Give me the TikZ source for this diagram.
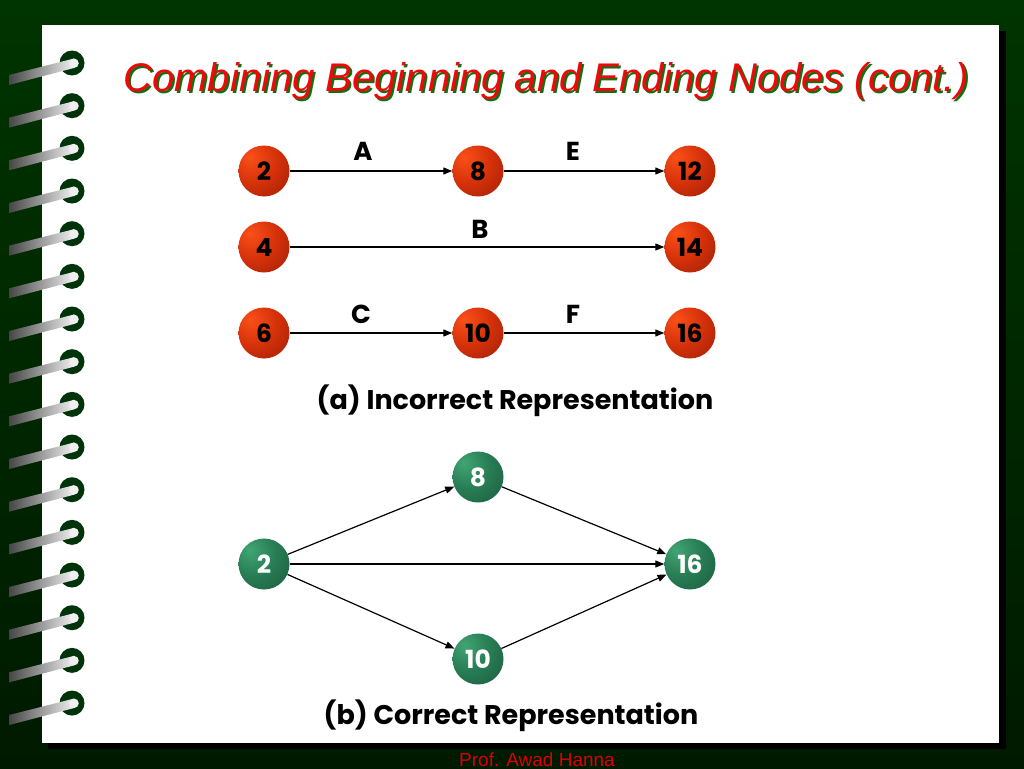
\documentclass[tikz,border=0pt]{standalone}
\usepackage{fontspec}
\setmainfont{Liberation Sans}
\newfontfamily\comic{Poppins}
\usetikzlibrary{arrows.meta}
\definecolor{bgtop}{RGB}{0,52,0}
\definecolor{bgbot}{RGB}{0,26,0}
\definecolor{ringc}{RGB}{0,51,10}
\definecolor{titlered}{RGB}{235,10,10}
\definecolor{titlegreen}{RGB}{20,110,20}
\definecolor{footred}{RGB}{220,0,0}
\definecolor{redA}{RGB}{250,80,25}
\definecolor{redB}{RGB}{215,50,10}
\definecolor{redC}{RGB}{120,18,4}
\definecolor{grnA}{RGB}{65,165,115}
\definecolor{grnB}{RGB}{40,125,85}
\definecolor{grnC}{RGB}{18,70,45}
\pgfdeclareradialshading{redsph}{\pgfpoint{-14bp}{14bp}}{color(0bp)=(redA); color(22bp)=(redB); color(64bp)=(redC); color(100bp)=(redC)}
\pgfdeclareradialshading{grnsph}{\pgfpoint{-14bp}{14bp}}{color(0bp)=(grnA); color(22bp)=(grnB); color(64bp)=(grnC); color(100bp)=(grnC)}
\tikzset{
  rednode/.style={circle, minimum size=51pt, inner sep=0pt, shading=redsph, font=\comic\bfseries\fontsize{25}{25}\selectfont, text=black},
  grnnode/.style={circle, minimum size=51pt, inner sep=0pt, shading=grnsph, font=\comic\bfseries\fontsize{25}{25}\selectfont, text=white},
  arr/.style={-{Triangle[length=9pt,width=7pt]}, line width=1.2pt, black},
  lbl/.style={font=\comic\bfseries\fontsize{26}{26}\selectfont, text=black},
  captxt/.style={font=\comic\bfseries\fontsize{27}{27}\selectfont, text=black},
}
\begin{document}
\begin{tikzpicture}[x=1pt,y=-1pt]
\useasboundingbox (0,0) rectangle (1024,768);
% background
\shade[top color=bgtop, bottom color=bgbot] (0,0) rectangle (1024,768);
% page shadow and page
\fill[black] (48,31) rectangle (1006,749);
\fill[white] (42,25) rectangle (999,743);
% spiral binding
\foreach \i in {0,...,15}{
  \pgfmathsetmacro{\yy}{63+42.67*\i}
  \fill[ringc] (72,\yy) circle (12.5);
  \shade[left color=gray!55!black, right color=gray!12]
     (9,\yy+12) -- (9,\yy+22) -- (74,\yy+5) -- (74,\yy-4.5) -- cycle;
  \fill[gray!12] (74,\yy+0.25) circle (4.75);
}
% title
\node[anchor=base west, text=titlegreen, font=\itshape\fontsize{40}{40}\selectfont] (titlesh) at (122,93) {Combining Beginning and Ending Nodes (cont.)};
\node[anchor=base west, text=titlered, font=\itshape\fontsize{40}{40}\selectfont] (title) at (120,91) {Combining Beginning and Ending Nodes (cont.)};
% (a)
\node[rednode] (a2) at (264,171) {2};
\node[rednode] (a8) at (478,171) {8};
\node[rednode] (a12) at (690,171) {12};
\node[rednode] (a4) at (264,247) {4};
\node[rednode] (a14) at (690,247) {14};
\node[rednode] (a6) at (264,333) {6};
\node[rednode] (a10) at (478,333) {10};
\node[rednode] (a16) at (690,333) {16};
\draw[arr] (a2) -- (a8);
\draw[arr] (a8) -- (a12);
\draw[arr] (a4) -- (a14);
\draw[arr] (a6) -- (a10);
\draw[arr] (a10) -- (a16);
\node[lbl] (lA) at (363,151) {A};
\node[lbl] (lE) at (573,151) {E};
\node[lbl] (lB) at (480,229) {B};
\node[lbl] (lC) at (361,314) {C};
\node[lbl] (lF) at (573,314) {F};
\node[captxt, anchor=base] (capa) at (515,409) {(a) Incorrect Representation};
% (b)
\node[grnnode] (b2) at (264,564) {2};
\node[grnnode] (b8) at (478,477) {8};
\node[grnnode] (b16) at (690,564) {16};
\node[grnnode] (b10) at (478,659) {10};
\draw[arr] (b2) -- (b8);
\draw[arr] (b2) -- (b16);
\draw[arr] (b2) -- (b10);
\draw[arr] (b8) -- (b16);
\draw[arr] (b10) -- (b16);
\node[captxt, anchor=base] (capb) at (511,724) {(b) Correct Representation};
% footer
\node[anchor=base, text=footred, font=\fontsize{19}{19}\selectfont] (foot) at (537,766) {Prof. Awad Hanna};
\end{tikzpicture}
\end{document}
